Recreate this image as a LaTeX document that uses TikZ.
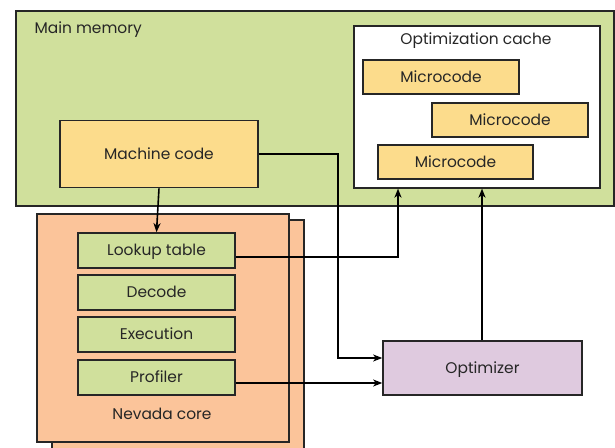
\documentclass[tikz,border=0pt]{standalone}
\usepackage{fontspec}
\setmainfont{Poppins}
\usetikzlibrary{arrows.meta}
\definecolor{memgreen}{HTML}{D0E09C}
\definecolor{codeyellow}{HTML}{FCDC8C}
\definecolor{coreorange}{HTML}{FBC49A}
\definecolor{optpurple}{HTML}{DFCADF}
\definecolor{inkgray}{HTML}{262626}
\begin{document}
\begin{tikzpicture}[x=1bp,y=-1bp,
  font=\fontsize{15.5}{18}\selectfont,
  box/.style={draw=inkgray,line width=1.6bp,inner sep=0pt,text=inkgray,
    text height=11.5bp,text depth=0.8bp},
  stage/.style={box,fill=memgreen},
  micro/.style={box,fill=codeyellow},
  link/.style={draw=black,line width=1.6bp},
  tip/.style={-{Stealth[length=9bp,width=7bp,inset=2.5bp]}}]
\useasboundingbox (0,0) rectangle (615,448);

% main memory region
\node[box,fill=memgreen,minimum width=598bp,minimum height=195bp,anchor=north west] (mem) at (15,10) {};
\node[anchor=west,text=inkgray] (memlbl) at (31,29.5) {Main memory};

\node[micro,minimum width=198bp,minimum height=67bp] (mc) at (159,154) {Machine code};

% optimization cache
\node[box,fill=white,minimum width=246bp,minimum height=162bp,anchor=north west] (cache) at (353,25) {};
\node[text=inkgray] (cachelbl) at (476,40.5) {Optimization cache};
\node[micro,minimum width=156bp,minimum height=34bp] (u1) at (441,77) {Microcode};
\node[micro,minimum width=156bp,minimum height=34bp] (u2) at (510,120) {Microcode};
\node[micro,minimum width=155bp,minimum height=34bp] (u3) at (455.5,162) {Microcode};

% Nevada cores (stacked)
\node[box,fill=coreorange,minimum width=252bp,minimum height=240bp,anchor=north west] (coreback) at (51,219) {};
\node[box,fill=coreorange,minimum width=252bp,minimum height=228bp,anchor=north west] (core) at (36,213) {};
\node[stage,minimum width=157bp,minimum height=35bp] (lut) at (156.5,250.5) {Lookup table};
\node[stage,minimum width=157bp,minimum height=35bp] (dec) at (156.5,292.5) {Decode};
\node[stage,minimum width=157bp,minimum height=35bp] (exe) at (156.5,334.5) {Execution};
\node[stage,minimum width=157bp,minimum height=35bp] (prof) at (156.5,377.5) {Profiler};
\node[text=inkgray] (corelbl) at (162,414) {Nevada core};

% optimizer
\node[box,fill=optpurple,minimum width=199bp,minimum height=54bp] (opt) at (482.5,368) {Optimizer};

% connectors
\draw[link,tip] (mc.south) -- (lut.north);
\draw[link,tip] (mc.east) -| (338,358) -- (opt.west |- 0,358);
\draw[link,tip] (lut.east |- 0,257) -| (cache.south -| 398,0);
\draw[link,tip] (prof.east |- 0,383) -- (opt.west |- 0,383);
\draw[link,tip] (opt.north -| 482,0) -- (cache.south -| 482,0);
\end{tikzpicture}
\end{document}
